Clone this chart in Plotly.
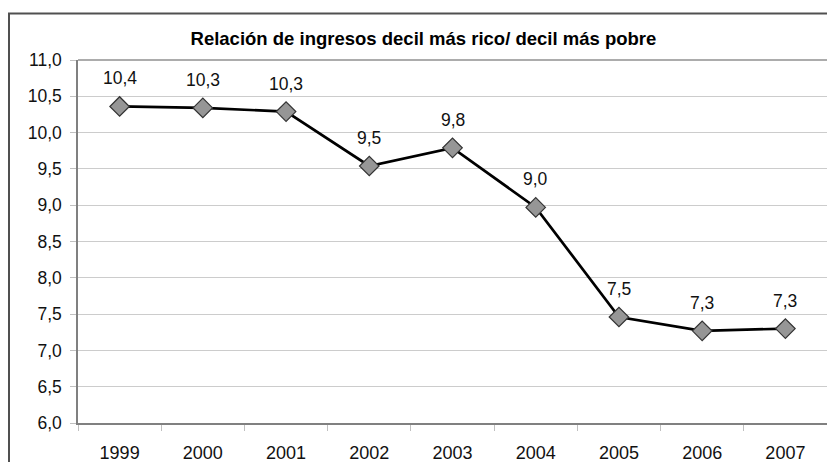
import plotly.graph_objects as go

years = ["1999", "2000", "2001", "2002", "2003", "2004", "2005", "2006", "2007"]
ratio = [10.36, 10.34, 10.29, 9.54, 9.79, 8.97, 7.46, 7.27, 7.30]
y_ticks = [6.0, 6.5, 7.0, 7.5, 8.0, 8.5, 9.0, 9.5, 10.0, 10.5, 11.0]
title_text = "Relación de ingresos decil más rico/ decil más pobre"

FONT = "Liberation Sans, Arial, sans-serif"

fig = go.Figure()
fig.add_trace(go.Scatter(
    x=years, y=ratio, mode="lines+markers",
    line=dict(color="#000000", width=2.7),
    marker=dict(symbol="diamond", size=15, color="#969696",
                line=dict(color="#333333", width=1.2)),
    hoverinfo="skip", showlegend=False,
))

for i, yv in enumerate(ratio):
    fig.add_annotation(x=i, y=yv, xref="x", yref="y",
                       text=f"{yv:.1f}".replace(".", ","),
                       showarrow=False, yshift=28,
                       font=dict(family=FONT, size=17.5, color="#111111"))

fig.update_layout(
    width=827, height=462,
    margin=dict(l=78, r=0, t=60, b=39),
    paper_bgcolor="white", plot_bgcolor="white",
    separators=",.",
    title=dict(text="<b>" + title_text + "</b>", x=0.512, xanchor="center",
               y=1 - 38.5 / 462, yanchor="middle",
               font=dict(family=FONT, size=18.5, color="#000000")),
    font=dict(family=FONT, size=17, color="#111111"),
)
fig.update_xaxes(
    type="category", showgrid=False, showline=True, linecolor="#808080",
    linewidth=1.5, ticks="outside", ticklen=6, tickcolor="#c0c0c0",
    tickson="boundaries", tickfont=dict(family=FONT, size=18, color="#111111"),
    ticklabelstandoff=13, range=[-0.5, 8.5],
)
fig.update_yaxes(
    range=[6, 11], tickvals=y_ticks, tickformat=".1f", showgrid=True,
    gridcolor="#cccccc", gridwidth=1.3, showline=True, linecolor="#808080",
    linewidth=1.5, ticks="outside", ticklen=6, tickcolor="#c0c0c0",
    tickfont=dict(family=FONT, size=17.5, color="#111111"), zeroline=False,
    ticklabelstandoff=5,
)
# top border of plot area
fig.add_shape(type="line", xref="paper", yref="paper", x0=0, x1=1, y0=1, y1=1,
              line=dict(color="#909090", width=1.5))
# outer chart frame
fig.add_shape(type="rect", xref="paper", yref="paper",
              x0=(9 - 78) / 749, x1=1.05, y0=-0.3, y1=(423 - 13.5) / 363,
              line=dict(color="#505050", width=2), layer="above")

fig.write_html("out.html", config={"displayModeBar": False},
               post_script="document.body.style.margin='0';")
